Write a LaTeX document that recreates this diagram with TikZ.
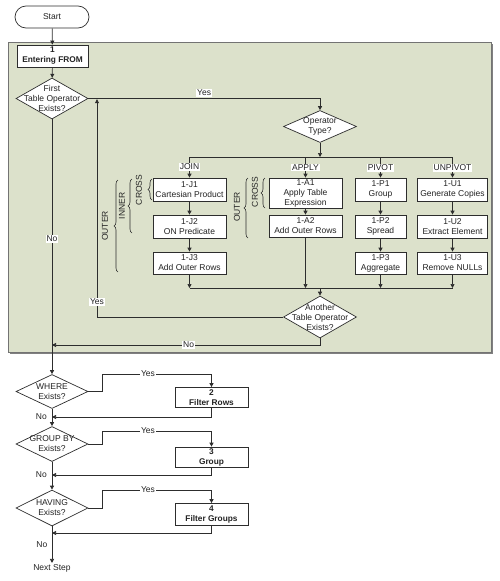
\documentclass[tikz,border=0pt]{standalone}
\usepackage{fontspec}
\setmainfont{Liberation Sans}
\usetikzlibrary{arrows.meta,shapes.geometric,decorations.pathreplacing}
\definecolor{panelfill}{RGB}{220,225,203}
\definecolor{ln}{RGB}{45,45,45}
\definecolor{txt}{RGB}{35,35,35}
\begin{document}
\begin{tikzpicture}[x=1pt,y=-1pt,
  every node/.style={font=\fontsize{8.5}{10}\selectfont, text=txt},
  bxs/.style={draw=ln, fill=white, line width=0.7pt, align=center, inner sep=0pt},
  bold/.style={font=\fontsize{8.3}{10}\selectfont\bfseries},
  dia/.style={diamond, draw=ln, fill=white, line width=0.7pt, inner sep=0pt, minimum width=72pt},
  dtxt/.style={label={[align=center, font=\fontsize{8.5}{10}\selectfont]center:#1}},
  lab/.style={fill=white, inner sep=0.8pt},
  arr/.style={-{Triangle[length=4pt,width=4pt]}},
  con/.style={draw=ln, line width=0.7pt},
  brc/.style={draw=ln, line width=0.6pt, decorate, decoration={brace, amplitude=4pt}},
  side/.style={rotate=90, font=\fontsize{8.5}{10}\selectfont}
]
\useasboundingbox (0,0) rectangle (500,581);
% panel
\fill[black!50] (9.5,43.5) rectangle (492.5,353.5);
\draw[draw=black!55, fill=panelfill, line width=0.8pt] (8,42) rectangle (491,352);

% top nodes
\node[bxs, rounded corners=11pt, minimum width=74pt, minimum height=22pt] (start) at (52,17) {Start};
\node[bxs, bold, minimum width=71pt, minimum height=22pt] (from) at (52.5,56) {1\\Entering FROM};
\node[dia, minimum height=41pt, dtxt={First\\Table Operator\\Exists?}] (d1) at (52,98.5) {};
\node[dia, minimum width=73pt, minimum height=32pt, dtxt={Operator\\Type?}] (optype) at (320,126.5) {};
\node[dia, minimum width=73pt, minimum height=42pt, dtxt={Another\\Table Operator\\Exists?}] (another) at (320,317) {};

% JOIN column
\node[bxs, minimum width=73pt, minimum height=23pt] (j1) at (189.5,189.5) {1-J1\\Cartesian Product};
\node[bxs, minimum width=73pt, minimum height=23pt] (j2) at (189.5,226.5) {1-J2\\ON Predicate};
\node[bxs, minimum width=73pt, minimum height=22pt] (j3) at (189.5,263) {1-J3\\Add Outer Rows};
% APPLY column
\node[bxs, minimum width=73pt, minimum height=30pt] (a1) at (305.5,193) {1-A1\\Apply Table\\Expression};
\node[bxs, minimum width=73pt, minimum height=22pt] (a2) at (305.5,226) {1-A2\\Add Outer Rows};
% PIVOT column
\node[bxs, minimum width=51pt, minimum height=23pt] (p1) at (380.5,189.5) {1-P1\\Group};
\node[bxs, minimum width=51pt, minimum height=23pt] (p2) at (380.5,226.5) {1-P2\\Spread};
\node[bxs, minimum width=51pt, minimum height=22pt] (p3) at (380.5,263) {1-P3\\Aggregate};
% UNPIVOT column
\node[bxs, minimum width=70pt, minimum height=23pt] (u1) at (452.5,189.5) {1-U1\\Generate Copies};
\node[bxs, minimum width=70pt, minimum height=23pt] (u2) at (452.5,226.5) {1-U2\\Extract Element};
\node[bxs, minimum width=70pt, minimum height=22pt] (u3) at (452.5,263) {1-U3\\Remove NULLs};

% lower part
\node[dia, minimum height=34pt, dtxt={WHERE\\Exists?}] (where) at (52,391.5) {};
\node[dia, minimum height=35pt, dtxt={GROUP BY\\Exists?}] (gb) at (52,444) {};
\node[dia, minimum height=36pt, dtxt={HAVING\\Exists?}] (hav) at (52,508) {};
\node[bxs, bold, minimum width=73pt, minimum height=20pt] (b2) at (211.5,397.5) {2\\Filter Rows};
\node[bxs, bold, minimum width=73pt, minimum height=20pt] (b3) at (211.5,457) {3\\Group};
\node[bxs, bold, minimum width=73pt, minimum height=22pt] (b4) at (211.5,514.5) {4\\Filter Groups};
\node[inner sep=1pt] (next) at (52,568) {Next Step};

% braces
\draw[brc] (118,272) -- (118,180);
\node[side] (oj) at (105,226) {OUTER};
\draw[brc] (132,233) -- (132,179);
\node[side] (ij) at (122,206) {INNER};
\draw[brc] (152,200) -- (152,179);
\node[side] (cj) at (139,190) {CROSS};
\draw[brc] (248,238) -- (248,178);
\node[side] (oa) at (237,207) {OUTER};
\draw[brc] (265,208) -- (265,178);
\node[side] (ca) at (255,192) {CROSS};

% connectors
\draw[con, arr] (start) -- (from);
\draw[con, arr] (from) -- (d1);
\draw[con, arr] (d1.east) -- node[lab, above=1.5pt, fill=white]{Yes} (320,98.5) -- (optype.north);
\coordinate (tbus) at (320,157);
\draw[con, arr] (optype.south) -- (tbus);
\draw[con] (189.5,157) -- (452.5,157);
\draw[con, arr] (189.5,157) -- node[lab, pos=0.47]{JOIN} (j1.north);
\draw[con, arr] (305.5,157) -- node[lab, pos=0.52]{APPLY} (a1.north);
\draw[con, arr] (380.5,157) -- node[lab, pos=0.52]{PIVOT} (p1.north);
\draw[con, arr] (452.5,157) -- node[lab, pos=0.52]{UNPIVOT} (u1.north);
\draw[con, arr] (j1) -- (j2);
\draw[con, arr] (j2) -- (j3);
\draw[con, arr] (a1) -- (a2);
\draw[con, arr] (p1) -- (p2);
\draw[con, arr] (p2) -- (p3);
\draw[con, arr] (u1) -- (u2);
\draw[con, arr] (u2) -- (u3);
\draw[con, arr] (j3.south) -- (189.5,288);
\draw[con, arr] (a2.south) -- (305.5,288);
\draw[con, arr] (p3.south) -- (380.5,288);
\draw[con, arr] (u3.south) -- (452.5,288);
\draw[con] (189.5,288) -- (452.5,288);
\draw[con, arr] (320,288) -- (another.north);
\draw[con, arr] (another.west) -- (97,317) -- node[lab, pos=0.07]{Yes} (97,99.2);
\draw[con, arr] (another.south) -- (320,345) -- node[lab, pos=0.49]{No} (52,345);
\draw[con, arr] (d1.south) -- node[lab, pos=0.47]{No} (where.north);

\draw[con, arr] (where.east) -- (102,391.5) -- (102,374) -- node[lab, pos=0.42]{Yes} (211.5,374) -- (b2.north);
\draw[con, arr] (b2.south) -- (211.5,417) -- node[pos=1, left=1.5pt]{No} (52,417);
\draw[con, arr] (where.south) -- (gb.north);
\draw[con, arr] (gb.east) -- (102,444) -- (102,431) -- node[lab, pos=0.42]{Yes} (211.5,431) -- (b3.north);
\draw[con, arr] (b3.south) -- (211.5,475) -- node[pos=1, left=1.5pt]{No} (52,475);
\draw[con, arr] (gb.south) -- (hav.north);
\draw[con, arr] (hav.east) -- (102,508) -- (102,490) -- node[lab, pos=0.42]{Yes} (211.5,490) -- (b4.north);
\draw[con, arr] (b4.south) -- (211.5,533) -- (52,533);
\draw[con, arr] (hav.south) -- node[left=1pt, pos=0.5]{No} (next.north);
\end{tikzpicture}
\end{document}
